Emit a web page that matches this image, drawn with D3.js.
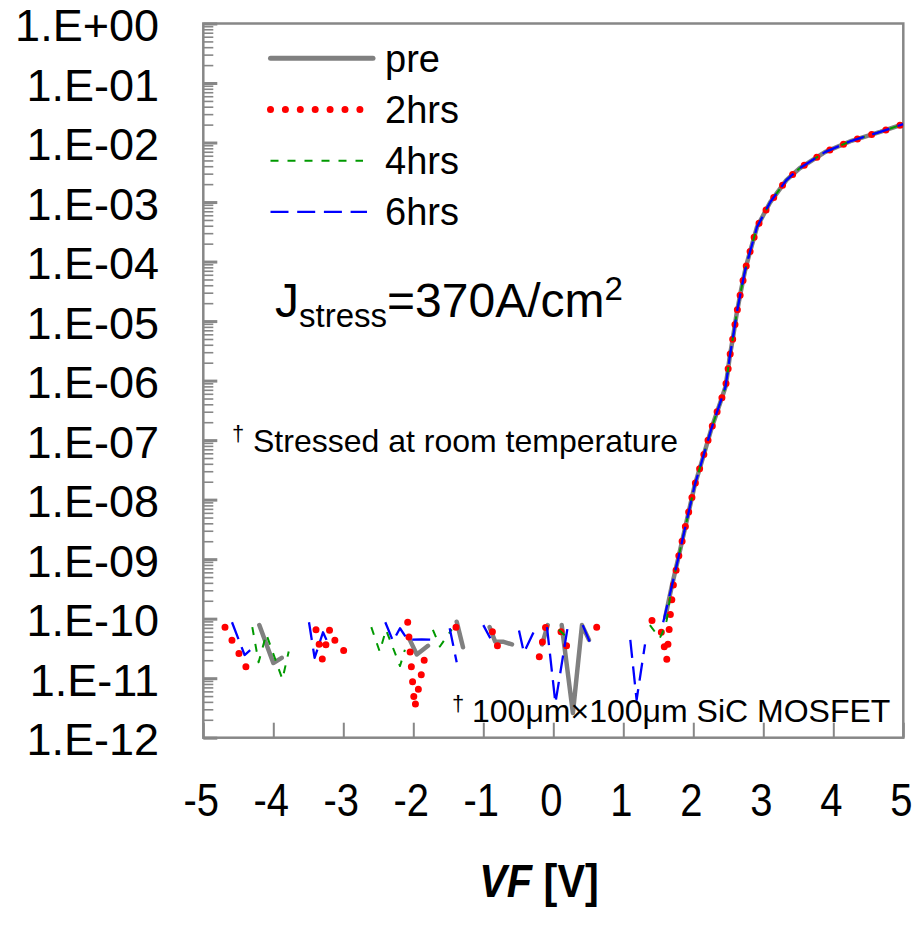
<!DOCTYPE html>
<html><head><meta charset="utf-8">
<script src="https://cdn.jsdelivr.net/npm/d3@7"></script>
<style>body{margin:0;background:#fff}svg{display:block}text{font-family:"Liberation Sans",Arial,sans-serif;fill:#000}</style>
</head><body><svg id="c" width="917" height="927"></svg>
<script>
// ---------- data ----------
const seriesNames = ["pre", "2hrs", "4hrs", "6hrs"];
const xTicks = [-5, -4, -3, -2, -1, 0, 1, 2, 3, 4, 5];
const yTickValues = [1, 1e-1, 1e-2, 1e-3, 1e-4, 1e-5, 1e-6, 1e-7, 1e-8, 1e-9, 1e-10, 1e-11, 1e-12];
const yTickLabels = ["1.E+00","1.E-01","1.E-02","1.E-03","1.E-04","1.E-05","1.E-06","1.E-07","1.E-08","1.E-09","1.E-10","1.E-11","1.E-12"];

// shared forward-conduction branch (V, A)
const fwdV = [1.79, 1.93, 2.02, 2.14, 2.26, 2.36, 2.41, 2.46, 2.49, 2.52, 2.57, 2.62, 2.68, 2.74, 2.79, 2.91, 3.10, 3.33, 3.52, 3.88, 4.26, 4.67, 5.00];
const fwdI = [1.1e-9, 5.9e-9, 1.74e-8, 5.2e-8, 1.58e-7, 3.5e-7, 5.2e-7, 7.9e-7, 1.35e-6, 2.5e-6, 5.6e-6, 1.35e-5, 3.2e-5, 7.1e-5, 1.2e-4, 3.8e-4, 1.0e-3, 2.34e-3, 3.7e-3, 6.9e-3, 1.07e-2, 1.51e-2, 2.04e-2];

// noise-floor parts (null = point not plottable on log axis -> gap)
const preV = [-4.20, -4.00, -3.88, -3.0, -2.05, -1.95, -1.79, -1.5, -1.38, -1.29, -1.1, -0.91, -0.83, -0.72, -0.59, -0.3, -0.16, -0.08, 0.0, 0.12, 0.28, 0.41, 0.51, 1.0, 1.60, 1.69];
const preI = [7.8e-11, 1.8e-11, 2.2e-11, null, 4.4e-11, 2.5e-11, 3.5e-11, null, 8.9e-11, 3.3e-11, null, 7.2e-11, 4.1e-11, 4.1e-11, 3.7e-11, null, 3.7e-11, 7.8e-11, null, 7.8e-11, 2.6e-12, 7.8e-11, 4.4e-11, null, 1.07e-10, 3.4e-10];

const h2V = [-4.69, -4.39, -4.0, -3.39, -3.30, -3.19, -3.07, -2.95, -2.5, -2.08, -1.98, -1.82, -1.6, -1.39, -1.35, -1.1, -0.87, -0.80, -0.62, -0.4, -0.20, -0.11, 0.0, 0.11, 0.19, 0.4, 0.62, 0.76, 1.0, 1.41, 1.55, 1.62, 1.67, 1.69, 1.71];
const h2I = [7.2e-11, 1.55e-11, null, 6.5e-11, 2.1e-11, 6.9e-11, 3.1e-11, 2.8e-11, null, 8.7e-11, 3.2e-12, 2.8e-11, null, 7.2e-11, 4.1e-11, null, 6.0e-11, 3.5e-11, 3.5e-11, null, 2.3e-11, 7.2e-11, null, 6.0e-11, 3.5e-11, null, 7.2e-11, 5.2e-11, null, 9.3e-11, 5.8e-11, 2.0e-11, 1.1e-10, 1.9e-10, 3.4e-10];

const h4V = [-4.30, -4.21, -4.10, -3.87, -3.78, -3.2, -2.60, -2.48, -2.39, -2.19, -2.12, -1.9, -1.72, -1.62, -1.45, -0.5, 0.08, 0.19, 0.8, 1.38, 1.52, 1.56, 1.62, 1.69];
const h4I = [7.2e-11, 1.85e-11, 5.5e-11, 9.6e-12, 2.8e-11, null, 7.2e-11, 2.8e-11, 6.5e-11, 1.6e-11, 3.0e-11, null, 6.5e-11, 3.4e-11, 6.6e-11, null, 6.5e-11, 4.9e-11, null, 7.8e-11, 4.7e-11, 5.8e-11, 9.4e-11, 3.4e-10];

const h6V = [-4.59, -4.41, -4.33, -4.0, -3.49, -3.41, -3.29, -3.24, -2.8, -2.40, -2.29, -2.19, -2.08, -1.88, -1.65, -1.55, -1.48, -1.38, -1.2, -1.00, -0.90, -0.7, -0.49, -0.42, -0.28, -0.2, -0.09, 0.03, 0.21, 0.3, 0.42, 0.52, 0.8, 1.10, 1.19, 1.31, 1.45, 1.57, 1.69];
const h6I = [8.7e-11, 2.45e-11, 2.95e-11, null, 8.7e-11, 2.2e-11, 5.9e-11, 4.4e-11, null, 8.7e-11, 4.2e-11, 6.9e-11, 4.4e-11, 4.5e-11, 4.4e-11, null, 6.9e-11, 1.85e-11, null, 7.8e-11, 4.7e-11, null, 6.3e-11, 2.7e-11, 6.0e-11, null, 7.2e-11, 3.8e-12, 7.8e-11, null, 7.8e-11, 4.1e-11, null, 4.4e-11, 4.3e-12, 3.7e-11, null, 8.7e-11, 3.4e-10];

// ---------- chart ----------
const svg = d3.select("#c");
const M = {l: 203.3, r: 903.3, t: 23.5, b: 737.7};
const grey = "#878787";
const x = d3.scaleLinear().domain([-5, 5]).range([M.l, M.r]);
const y = d3.scaleLog().domain([1e-12, 1]).range([M.b, M.t]);

function pts(vs, is) {
  const a = vs.map((v, k) => ({v: v, i: is[k]}));
  return a.concat(fwdV.map((v, k) => ({v: v, i: fwdI[k]})));
}
const data = [pts(preV, preI), pts(h2V, h2I), pts(h4V, h4I), pts(h6V, h6I)];
const styles = [
  {stroke: "#808080", width: 4.5, dash: null, cap: "round"},
  {stroke: "#ff0000", width: 7, dash: "0 14.9", cap: "round"},
  {stroke: "#009900", width: 2, dash: "8 9", cap: "butt"},
  {stroke: "#0000ff", width: 2.3, dash: "18 8.7", cap: "butt"}
];

// minor y ticks
const minors = [];
yTickValues.slice(1).forEach(m => { [2,3,4,5,6,7,8,9].forEach(k => minors.push(m * k)); });
svg.append("g").attr("transform", `translate(${M.l},0)`)
  .call(d3.axisLeft(y).tickValues(minors).tickSizeInner(-10).tickSizeOuter(0).tickFormat(""))
  .call(g => g.select(".domain").remove())
  .selectAll("line").attr("stroke", grey).attr("stroke-width", 1.6);
svg.append("g").attr("transform", `translate(${M.l},0)`)
  .call(d3.axisLeft(y).tickValues(yTickValues).tickSizeInner(-14).tickSizeOuter(0).tickFormat(""))
  .call(g => g.select(".domain").remove())
  .selectAll("line").attr("stroke", grey).attr("stroke-width", 3);
svg.append("g").attr("transform", `translate(0,${M.b})`)
  .call(d3.axisBottom(x).tickValues(xTicks).tickSizeInner(-15).tickSizeOuter(0).tickFormat(""))
  .call(g => g.select(".domain").remove())
  .selectAll("line").attr("stroke", grey).attr("stroke-width", 2);

// frame
svg.append("rect").attr("x", M.l).attr("y", M.t).attr("width", M.r - M.l).attr("height", M.b - M.t)
  .attr("fill", "none").attr("stroke", grey).attr("stroke-width", 2.5);

// y labels
svg.append("g").selectAll("text").data(yTickValues).join("text")
  .attr("x", 159).attr("y", d => y(d) + 17.5).attr("text-anchor", "end")
  .attr("font-size", 45).text((d, k) => yTickLabels[k]);

// x labels
svg.append("g").selectAll("g").data(xTicks).join("g")
  .attr("transform", d => `translate(${x(d) - 2},816) scale(0.85,1)`)
  .append("text").attr("text-anchor", "middle").attr("font-size", 47).text(d => d);

// axis title
const tt = svg.append("text").attr("transform", "translate(539,897) scale(0.88,1)")
  .attr("text-anchor", "middle").attr("font-size", 47).attr("font-weight", "bold");
tt.append("tspan").attr("font-style", "italic").text("VF");
tt.append("tspan").text(" [V]");

// clip
svg.append("clipPath").attr("id", "clip").append("rect")
  .attr("x", M.l).attr("y", M.t).attr("width", M.r - M.l).attr("height", M.b - M.t);

const line = d3.line().defined(d => d.i != null && d.i > 0).x(d => x(d.v)).y(d => y(d.i));
const gl = svg.append("g").attr("clip-path", "url(#clip)");
data.forEach((d, k) => {
  const s = styles[k];
  gl.append("path").datum(d).attr("d", line).attr("fill", "none")
    .attr("stroke", s.stroke).attr("stroke-width", s.width)
    .attr("stroke-dasharray", s.dash).attr("stroke-linecap", s.cap).attr("stroke-linejoin", "round");
});

// legend
const legX1 = [373, 373, 363, 367];
const lg = svg.append("g");
seriesNames.forEach((n, k) => {
  const ly = 58.3 + k * 51.2;
  const s = styles[k];
  lg.append("line").attr("x1", 270.5).attr("x2", legX1[k]).attr("y1", ly).attr("y2", ly)
    .attr("stroke", s.stroke).attr("stroke-width", s.width === 4.5 ? 5 : s.width)
    .attr("stroke-dasharray", s.dash).attr("stroke-linecap", s.cap);
  lg.append("text").attr("x", 385).attr("y", ly + 13.5).attr("font-size", 38).text(n);
});

// annotations
const j = svg.append("text").attr("x", 275).attr("y", 317);
j.append("tspan").attr("font-size", 48).text("J");
j.append("tspan").attr("font-size", 33).attr("dy", 10).text("stress");
j.append("tspan").attr("font-size", 48).attr("dy", -10).text("=370A/cm");
j.append("tspan").attr("font-size", 33).attr("dy", -17).text("2");

const a1 = svg.append("text").attr("x", 232).attr("y", 452);
a1.append("tspan").attr("font-size", 22).attr("dy", -11).text("†");
a1.append("tspan").attr("font-size", 32).attr("x", 253).attr("dy", 11).text("Stressed at room temperature");

const a2 = svg.append("text").attr("x", 452).attr("y", 722);
a2.append("tspan").attr("font-size", 22).attr("dy", -11).text("†");
a2.append("tspan").attr("font-size", 32).attr("x", 472).attr("dy", 11).text("100μm×100μm SiC MOSFET");
</script></body></html>
